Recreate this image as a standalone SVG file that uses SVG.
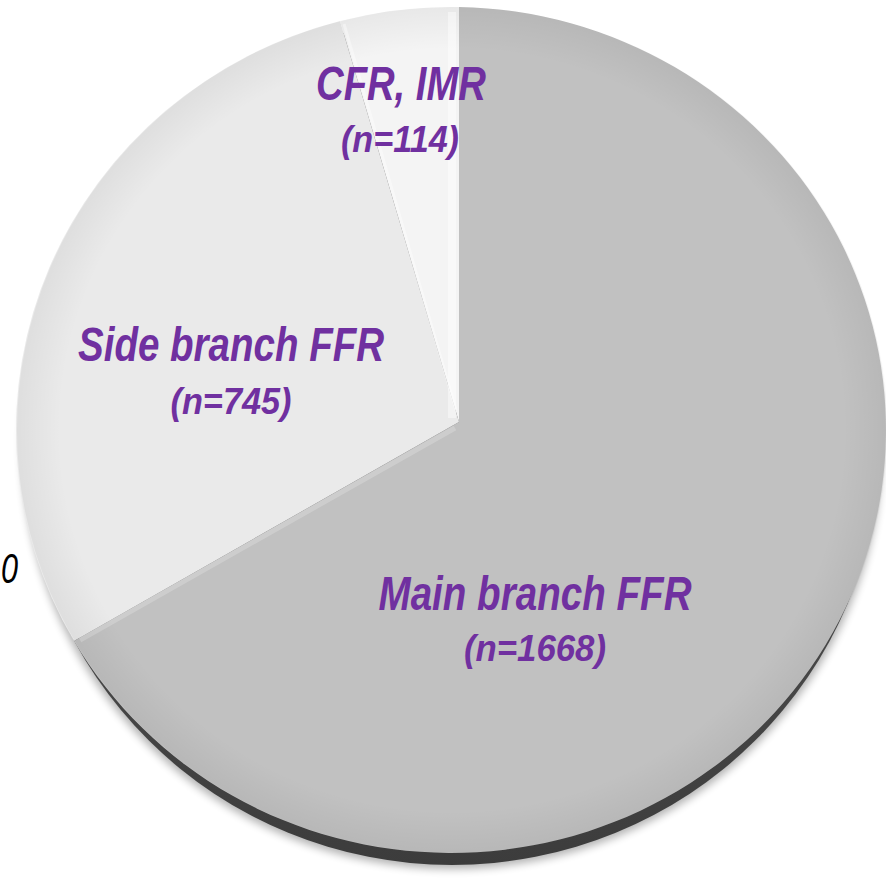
<svg xmlns="http://www.w3.org/2000/svg" width="886" height="879" viewBox="0 0 886 879">
  <defs>
    <filter id="blur" x="-10%" y="-10%" width="120%" height="120%">
      <feGaussianBlur stdDeviation="4"/>
    </filter>
    <radialGradient id="edgeShade" cx="452" cy="430" r="435" gradientUnits="userSpaceOnUse" gradientTransform="translate(452 430) scale(1 0.9724) translate(-452 -430)">
      <stop offset="0.9" stop-color="#000" stop-opacity="0"/>
      <stop offset="1" stop-color="#000" stop-opacity="0.05"/>
    </radialGradient>
    <linearGradient id="rimGrad" x1="0" y1="0" x2="0" y2="1">
      <stop offset="0" stop-color="#6a6a6a"/>
      <stop offset="1" stop-color="#3c3c3c"/>
    </linearGradient>
  </defs>
  <style>
    .lbl { font-family: "Liberation Sans Narrow", "Liberation Sans", Arial, sans-serif; font-weight: bold; font-style: italic; fill: #7030a0; text-anchor: middle; }
    .big { font-size: 48px; }
    .small { font-size: 37px; }
    .axis { font-family: "Liberation Sans Narrow", "Liberation Sans", Arial, sans-serif; font-style: italic; font-size: 43px; fill: #000; text-anchor: end; }
  </style>
  <rect width="886" height="879" fill="#ffffff"/>

  <g id="axis-label">
    <text class="axis" x="18" y="583" textLength="17" lengthAdjust="spacingAndGlyphs">0</text>
  </g>

  <g id="pie-base">
    <ellipse cx="452" cy="446" rx="430" ry="423" fill="#000" opacity="0.3" filter="url(#blur)"/>
    <ellipse cx="452" cy="442" rx="428" ry="423" fill="url(#rimGrad)"/>
  </g>

  <g id="slice-main">
    <path d="M459 422 L459 7 A435 423 0 1 1 74 641 Z" fill="#c1c1c1"/>
  </g>
  <g id="slice-side">
    <path d="M459 422 L74 641 A435 423 0 0 1 340 21 Z" fill="#eaeaea"/>
  </g>
  <g id="slice-cfr">
    <path d="M459 422 L340 21 A435 423 0 0 1 459 7 Z" fill="#f4f4f4"/>
  </g>

  <g id="shading">
    <ellipse cx="452" cy="430" rx="435" ry="423" fill="url(#edgeShade)"/>
    <path d="M452 12 L452 418" stroke="#ffffff" stroke-width="8" stroke-opacity="0.45"/>
    <path d="M455 428 L80 640" stroke="#ffffff" stroke-width="5" stroke-opacity="0.2"/>
    <path d="M344 24 L456 410" stroke="#ffffff" stroke-width="3" stroke-opacity="0.4"/>
  </g>

  <g id="connectors"></g>

  <g id="label-cfr">
    <text class="lbl big" x="401" y="100" textLength="170" lengthAdjust="spacingAndGlyphs">CFR, IMR</text>
    <text class="lbl small" x="400" y="152" textLength="118" lengthAdjust="spacingAndGlyphs">(n=114)</text>
  </g>
  <g id="label-side">
    <text class="lbl big" x="231" y="361" textLength="306" lengthAdjust="spacingAndGlyphs">Side branch FFR</text>
    <text class="lbl small" x="231" y="414" textLength="121" lengthAdjust="spacingAndGlyphs">(n=745)</text>
  </g>
  <g id="label-main">
    <text class="lbl big" x="535" y="610" textLength="313" lengthAdjust="spacingAndGlyphs">Main branch FFR</text>
    <text class="lbl small" x="535" y="661" textLength="142" lengthAdjust="spacingAndGlyphs">(n=1668)</text>
  </g>
</svg>
